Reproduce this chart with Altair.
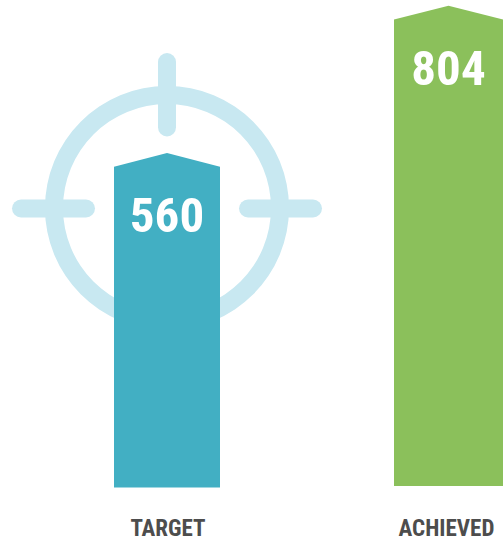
import altair as alt
import pandas as pd
import math

# Series values
categories = ["TARGET", "ACHIEVED"]
values = [560, 804]

# Layout of the two columns, in canvas pixels
CANVAS_W, CANVAS_H = 503, 542
centers = [167, 448.5]
half_widths = [53, 54.5]
base_lift = [0, 2.5]     # the second column sits slightly higher
PEAK = 23                # value units from shoulder to apex
PX_PER_UNIT = 0.5973
BASE_PX = 487.5

TEAL, GREEN = "#42AFC3", "#8BC05B"
PALE = "#C8E8F1"
FONT = "Roboto Condensed"

y_scale = alt.Scale(
    domain=[(BASE_PX - CANVAS_H) / PX_PER_UNIT, BASE_PX / PX_PER_UNIT],
    range=[CANVAS_H, 0],
)
x_scale = alt.Scale(domain=[0, CANVAS_W], range=[0, CANVAS_W])
color_scale = alt.Scale(domain=categories, range=[TEAL, GREEN])

# Pentagon outline of each column: shoulder, apex, shoulder
rows = []
for name, v, c, h, lift in zip(categories, values, centers, half_widths, base_lift):
    for px, top in [(c - h, v - PEAK), (c, v), (c + h, v - PEAK)]:
        rows.append({"name": name, "px": px, "top": top + lift, "bottom": lift})
shapes = pd.DataFrame(rows)

labels = pd.DataFrame(
    {
        "name": categories,
        "value": values,
        "center": centers,
        "top": [v + l for v, l in zip(values, base_lift)],
    }
)

x_enc = alt.X("px:Q", scale=x_scale, axis=None)

# Crosshair behind the target column
ring = (
    alt.Chart(pd.DataFrame({"k": [0]}))
    .mark_arc(radius=122, radius2=104, theta=0, theta2=2 * math.pi, color=PALE)
    .encode(x=alt.value(167), y=alt.value(208))
)
ticks = pd.DataFrame(
    {
        "x1": [167, 21, 248],
        "x2": [167, 86, 313],
        "y1": [62, 208.5, 208.5],
        "y2": [127.5, 208.5, 208.5],
    }
)
tick_layers = [
    alt.Chart(ticks.iloc[[i]])
    .mark_rule(color=PALE, strokeWidth=18, strokeCap="round")
    .encode(
        x=alt.value(float(ticks.x1[i])),
        x2=alt.value(float(ticks.x2[i])),
        y=alt.value(float(ticks.y1[i])),
        y2=alt.value(float(ticks.y2[i])),
    )
    for i in range(len(ticks))
]

columns = [
    alt.Chart(shapes[shapes.name == name])
    .mark_area(interpolate="linear", opacity=1)
    .encode(
        x=x_enc,
        y=alt.Y("top:Q", scale=y_scale, axis=None),
        y2="bottom:Q",
        color=alt.Color("name:N", scale=color_scale, legend=None),
    )
    for name in categories
]

value_text = (
    alt.Chart(labels)
    .mark_text(font=FONT, fontWeight="bold", fontSize=49, color="white", align="center", baseline="alphabetic", dy=79)
    .encode(
        x=alt.X("center:Q", scale=x_scale, axis=None),
        y=alt.Y("top:Q", scale=y_scale, axis=None),
        text=alt.Text("value:Q", format="d"),
    )
)

name_text = (
    alt.Chart(labels)
    .mark_text(font=FONT, fontWeight="bold", fontSize=23, color="#4D4D4D", align="center", baseline="alphabetic")
    .encode(
        x=alt.X("label_x:Q", scale=x_scale, axis=None),
        y=alt.value(536),
        text="name:N",
    )
    .transform_calculate(label_x="datum.name === 'ACHIEVED' ? datum.center - 2 : datum.center + 1")
)

chart = (
    alt.layer(ring, *tick_layers, *columns, value_text, name_text)
    .properties(
        width=CANVAS_W,
        height=CANVAS_H,
        padding=0,
        autosize=alt.AutoSizeParams(type="none"),
        background="white",
    )
    .configure_view(stroke=None)
)

chart.save("out.html", embed_options={"renderer": "svg", "actions": False})
